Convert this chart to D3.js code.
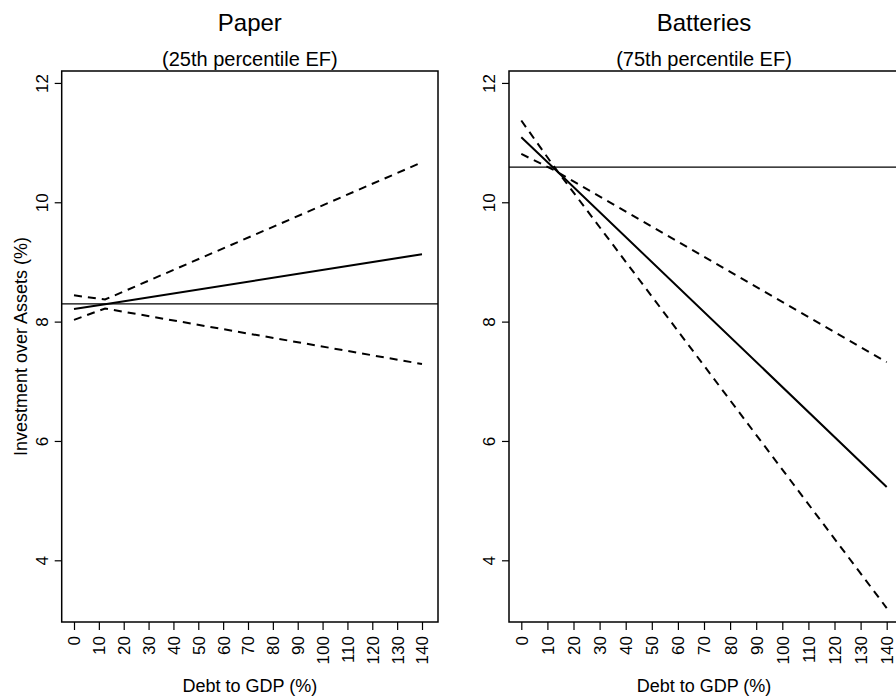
<!DOCTYPE html>
<html>
<head>
<meta charset="utf-8">
<script src="https://cdnjs.cloudflare.com/ajax/libs/d3/7.8.5/d3.min.js"></script>
<style>
  body { margin: 0; background: white; }
  text { font-family: "Liberation Sans", Arial, Helvetica, sans-serif; fill: black; }
</style>
</head>
<body>
<script>
// debt to GDP grid the marginal effects were read at
var debt = [0, 12.5, 140];
var xTicks = d3.range(0, 141, 10);
var yTicks = [4, 6, 8, 10, 12];

// Paper (25th percentile EF)
var paperFit = [8.21, 8.29, 9.13];
var paperUpper = [8.44, 8.37, 10.67];
var paperLower = [8.03, 8.22, 7.29];
var paperRef = 8.297;

// Batteries (75th percentile EF)
var battFit = [11.09, 10.57, 5.23];
var battUpper = [11.37, 10.60, 3.20];
var battLower = [10.81, 10.54, 7.32];
var battRef = 10.59;

var width = 896, height = 700;
var svg = d3.select('body').append('svg').attr('width', width).attr('height', height);

// plot region (shared by both panels)
var plotTop = 71, plotBottom = 622;
var y = d3.scaleLinear().domain([2.966, 12.2]).range([plotBottom, plotTop]);

var panels = [
    {title: 'Paper', sub: '(25th percentile EF)', box: [61.7, 438], xr: [74, 422],
     fit: paperFit, upper: paperUpper, lower: paperLower, ref: paperRef, ylab: true},
    {title: 'Batteries', sub: '(75th percentile EF)', box: [509, 899], xr: [521.3, 886.7],
     fit: battFit, upper: battUpper, lower: battLower, ref: battRef, ylab: false}
];

panels.forEach(function (p) {
    var x = d3.scaleLinear().domain([0, 140]).range(p.xr);
    var g = svg.append('g');
    var mid = (p.box[0] + p.box[1]) / 2;

    // titles
    g.append('text').attr('x', mid).attr('y', 31).attr('text-anchor', 'middle')
        .style('font-size', '24px').text(p.title);
    g.append('text').attr('x', mid).attr('y', 66).attr('text-anchor', 'middle')
        .style('font-size', '20px').text(p.sub);

    // reference line (abline)
    g.append('line').attr('x1', p.box[0]).attr('x2', p.box[1])
        .attr('y1', y(p.ref)).attr('y2', y(p.ref))
        .attr('stroke', 'black').attr('stroke-width', 1.3);

    var line = d3.line()
        .x(function (d, i) { return x(debt[i]); })
        .y(function (d) { return y(d); });

    [p.upper, p.lower].forEach(function (s) {
        g.append('path').attr('d', line(s)).attr('fill', 'none')
            .attr('stroke', 'black').attr('stroke-width', 2)
            .attr('stroke-dasharray', '8,6');
    });
    g.append('path').attr('d', line(p.fit)).attr('fill', 'none')
        .attr('stroke', 'black').attr('stroke-width', 2);

    // box
    g.append('rect').attr('x', p.box[0]).attr('y', plotTop)
        .attr('width', p.box[1] - p.box[0]).attr('height', plotBottom - plotTop)
        .attr('fill', 'none').attr('stroke', 'black').attr('stroke-width', 1.5);

    // x axis
    var xa = g.append('g').attr('transform', 'translate(0,' + plotBottom + ')')
        .call(d3.axisBottom(x).tickValues(xTicks).tickSize(8).tickFormat(d3.format('d')));
    xa.select('.domain').remove();
    xa.selectAll('line').attr('stroke', 'black').attr('stroke-width', 1.2);
    xa.selectAll('text')
        .attr('transform', 'rotate(-90)')
        .attr('x', -14).attr('y', 0).attr('dy', '0.35em')
        .attr('text-anchor', 'end')
        .style('font-size', '17px').style('font-family', '"Liberation Sans", Arial, sans-serif');

    g.append('text').attr('x', mid).attr('y', 692).attr('text-anchor', 'middle')
        .style('font-size', '18px').text('Debt to GDP (%)');

    // y axis
    var ya = g.append('g').attr('transform', 'translate(' + p.box[0] + ',0)')
        .call(d3.axisLeft(y).tickValues(yTicks).tickSize(7).tickFormat(d3.format('d')));
    ya.select('.domain').remove();
    ya.selectAll('line').attr('stroke', 'black').attr('stroke-width', 1.2);
    ya.selectAll('text')
        .attr('transform', 'rotate(-90)')
        .attr('x', 0).attr('y', -14).attr('dy', 0)
        .attr('text-anchor', 'middle')
        .style('font-size', '17px').style('font-family', '"Liberation Sans", Arial, sans-serif');

    if (p.ylab) {
        g.append('text')
            .attr('transform', 'translate(27,' + ((plotTop + plotBottom) / 2) + ') rotate(-90)')
            .attr('text-anchor', 'middle').style('font-size', '18px')
            .text('Investment over Assets (%)');
    }
});
</script>
</body>
</html>
